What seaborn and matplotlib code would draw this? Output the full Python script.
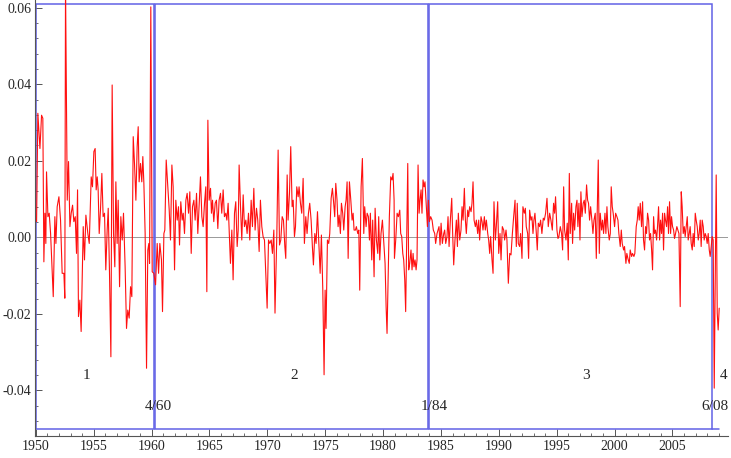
import numpy as np
import pandas as pd
import matplotlib
matplotlib.use('Agg')
import matplotlib.pyplot as plt
from matplotlib.patches import Rectangle
import seaborn as sns

# Series (values in units of 0.001), split by decade
years_a = [1950.06, 1950.17, 1950.35, 1950.49, 1950.60, 1950.69, 1950.78, 1950.86, 1950.92, 1951.04,
           1951.15, 1951.27, 1951.50, 1951.64, 1951.73, 1951.84, 1951.99, 1952.13, 1952.27, 1952.42,
           1952.50, 1952.56, 1952.71, 1952.82, 1952.94, 1953.05, 1953.17, 1953.28, 1953.40, 1953.51,
           1953.60, 1953.68, 1953.80, 1953.91, 1954.09, 1954.20, 1954.32, 1954.49, 1954.61, 1954.78,
           1954.89, 1955.01, 1955.12, 1955.21, 1955.30, 1955.38, 1955.47, 1955.58, 1955.70, 1955.81,
           1955.93, 1956.04, 1956.16, 1956.25, 1956.36, 1956.48, 1956.59, 1956.71, 1956.82, 1956.91,
           1957.02, 1957.11, 1957.23, 1957.34, 1957.46, 1957.57, 1957.71, 1957.83, 1957.94, 1958.06,
           1958.18, 1958.29, 1958.41, 1958.52, 1958.64, 1958.75, 1958.84, 1958.92, 1959.04, 1959.15,
           1959.24, 1959.33, 1959.44, 1959.56, 1959.67, 1959.76, 1959.82, 1959.93]
vals_a = [4.1, 32.4, 23.2, 31.9, 31.1, -6.4, 6.3, -1.6, 17.1, 5.4,
          6.3, 1.0, -15.5, 5.4, -1.6, 8.0, 10.6, 4.5, -9.4, -9.4,
          -15.9, 66.0, 9.7, 19.8, 2.8, 6.3, 8.4, 4.1, 5.4, -4.2,
          12.4, -20.7, -16.4, -24.6, 2.8, -5.9, 5.8, 1.0, -1.6, 15.8,
          13.2, 22.4, 23.2, 12.4, 15.8, 12.4, 1.0, 7.1, 16.7, 5.4,
          6.3, -8.5, 1.9, 7.6, -9.4, -31.2, 39.8, 1.0, -7.7, 14.5,
          -1.6, 9.7, -12.9, 5.4, -0.7, 6.3, -7.7, -23.8, -19.0, -21.1,
          -12.9, -15.5, 26.3, 19.3, 9.7, 23.7, 28.9, 14.5, 19.3, 14.5,
          21.1, 14.1, 1.0, -34.2, -3.3, -1.6, -6.8, 60.2]

years_b = [1960.05, 1960.19, 1960.34, 1960.48, 1960.60, 1960.71, 1960.85, 1960.94, 1961.06, 1961.14,
           1961.26, 1961.40, 1961.52, 1961.63, 1961.75, 1961.86, 1961.98, 1962.09, 1962.21, 1962.32,
           1962.41, 1962.52, 1962.64, 1962.73, 1962.84, 1962.96, 1963.07, 1963.19, 1963.30, 1963.42,
           1963.53, 1963.65, 1963.76, 1963.88, 1963.99, 1964.11, 1964.22, 1964.34, 1964.45, 1964.57,
           1964.68, 1964.77, 1964.86, 1964.97, 1965.09, 1965.17, 1965.26, 1965.37, 1965.49, 1965.60,
           1965.72, 1965.83, 1965.95, 1966.06, 1966.18, 1966.29, 1966.41, 1966.50, 1966.61, 1966.70,
           1966.81, 1966.93, 1967.04, 1967.16, 1967.27, 1967.39, 1967.48, 1967.56, 1967.68, 1967.79,
           1967.91, 1968.02, 1968.14, 1968.25, 1968.37, 1968.48, 1968.60, 1968.71, 1968.83, 1968.94,
           1969.06, 1969.17, 1969.29, 1969.40, 1969.52, 1969.63, 1969.75, 1969.86, 1969.98, 1970.10,
           1970.21, 1970.33, 1970.44, 1970.56, 1970.66]
vals_b = [-9.0, -9.4, -12.4, -1.6, -9.4, -1.6, -5.9, -19.4, 1.0, 1.9,
          20.2, 13.2, 7.1, -0.7, 18.9, 13.2, -8.5, 9.7, 4.5, 8.0,
          -2.0, 9.3, 4.5, 6.3, 1.0, 9.7, 11.5, 6.3, 11.9, -4.2,
          8.0, 9.7, 4.5, 11.5, 1.0, 8.9, 15.8, 5.4, 2.8, 8.9,
          13.2, -14.2, 30.6, 9.7, 12.8, 6.3, 9.7, 4.1, 8.9, 9.7,
          2.3, 9.7, 11.5, 6.3, 12.4, 5.4, 6.3, 4.5, 8.9, 1.9,
          -6.8, 1.9, -11.1, 6.3, 9.3, -2.4, 1.9, 18.9, 8.0, -0.7,
          11.1, 2.8, 4.5, 1.0, 6.3, -0.7, 9.7, 2.8, 12.8, 1.9,
          7.6, 4.5, -3.7, 9.7, 2.8, 0.2, -0.7, -9.4, -18.5, -0.7,
          -1.6, -0.7, -4.2, 1.9, -19.8]

years_c = [1970.82, 1970.93, 1971.05, 1971.16, 1971.28, 1971.39, 1971.51, 1971.59, 1971.71, 1971.79,
           1971.91, 1972.02, 1972.14, 1972.23, 1972.34, 1972.43, 1972.54, 1972.66, 1972.74, 1972.86,
           1972.97, 1973.09, 1973.20, 1973.32, 1973.43, 1973.55, 1973.66, 1973.78, 1973.89, 1973.98,
           1974.10, 1974.21, 1974.33, 1974.44, 1974.56, 1974.67, 1974.79, 1974.90, 1974.99, 1975.07,
           1975.19, 1975.30, 1975.39, 1975.51, 1975.62, 1975.71, 1975.82, 1975.91, 1976.02, 1976.11,
           1976.20, 1976.31, 1976.40, 1976.51, 1976.60, 1976.72, 1976.80, 1976.89, 1976.98, 1977.09,
           1977.21, 1977.32, 1977.41, 1977.49, 1977.61, 1977.69, 1977.81, 1977.90, 1977.98, 1978.10,
           1978.21, 1978.33, 1978.41, 1978.53, 1978.62, 1978.73, 1978.82, 1978.90, 1979.02, 1979.10,
           1979.22, 1979.31, 1979.42, 1979.54, 1979.62, 1979.71, 1979.82, 1979.94, 1980.05, 1980.17,
           1980.26, 1980.34, 1980.43, 1980.54, 1980.66, 1980.77, 1980.86, 1980.95]
vals_c = [1.0, 22.8, -2.0, -0.7, 5.4, 4.5, -2.4, -5.5, 16.3, 4.5,
          11.5, 23.7, 8.0, 9.7, 0.2, 2.8, 13.2, 10.6, 13.2, 8.9,
          6.3, 15.4, -1.6, 5.4, 1.0, 6.3, 8.9, 4.5, -2.4, -7.2,
          1.0, -1.6, 6.7, -0.7, -9.4, 0.6, -13.8, -35.9, -13.8, -23.8,
          -0.7, -1.6, 1.0, 10.2, 12.8, 9.7, 5.4, 14.1, 9.7, 2.8,
          5.8, 1.0, 8.9, 6.3, 1.9, 8.0, 9.7, 14.5, -5.5, 14.5,
          9.7, 4.5, 6.3, 1.9, 1.9, 2.8, 1.0, 1.9, -13.8, 13.2,
          20.6, 1.0, 8.0, 2.8, 6.3, 5.4, -0.7, 6.3, -5.9, 4.5,
          -10.3, 7.6, -0.7, -4.2, 5.4, -5.9, 1.0, 4.5, -0.7, -6.8,
          -18.1, -25.1, -12.0, 5.4, 15.8, 15.0, 16.7, 9.7]

years_d = [1980.98, 1981.09, 1981.21, 1981.32, 1981.44, 1981.52, 1981.61, 1981.70, 1981.78, 1981.87,
           1981.95, 1982.04, 1982.13, 1982.21, 1982.30, 1982.41, 1982.50, 1982.59, 1982.67, 1982.76,
           1982.85, 1982.93, 1983.02, 1983.11, 1983.19, 1983.28, 1983.36, 1983.45, 1983.54, 1983.62,
           1983.71, 1983.83, 1983.91, 1984.00, 1984.11, 1984.23, 1984.34, 1984.46, 1984.54, 1984.66,
           1984.75, 1984.83, 1984.92, 1985.01, 1985.12, 1985.24, 1985.32, 1985.41, 1985.52, 1985.61,
           1985.70, 1985.81, 1985.93, 1986.01, 1986.10, 1986.21, 1986.33, 1986.42, 1986.50, 1986.62,
           1986.73, 1986.82, 1986.91, 1987.02, 1987.11, 1987.19, 1987.31, 1987.39, 1987.48, 1987.60,
           1987.68, 1987.77, 1987.86, 1987.97, 1988.06, 1988.17, 1988.26, 1988.34, 1988.46, 1988.55,
           1988.63, 1988.75, 1988.83, 1988.92, 1989.04, 1989.12, 1989.21, 1989.29, 1989.41, 1989.50,
           1989.58, 1989.70, 1989.78, 1989.90, 1989.99, 1990.10, 1990.19, 1990.30, 1990.42, 1990.50,
           1990.62, 1990.70, 1990.82, 1990.94, 1991.05, 1991.17, 1991.28, 1991.40]
vals_d = [-5.5, -0.7, 6.3, 5.4, 7.1, 1.0, 0.2, -4.2, -5.9, -11.1,
          -19.4, 1.0, 19.3, -8.5, -6.8, -3.3, -8.5, -4.2, -7.7, -5.9,
          -8.5, -5.9, 18.9, 6.3, 9.7, 12.4, 6.3, 15.0, 13.2, 14.5,
          9.7, 2.8, 9.7, 4.1, 5.4, 4.5, 1.9, 1.0, -1.6, 1.0,
          1.9, 2.8, -2.0, 3.7, -1.6, 1.0, 1.9, -1.6, 0.2, 5.4,
          -2.4, 4.5, 10.2, 1.0, -7.2, -0.7, 4.5, -2.4, 6.3, -0.7,
          1.9, 8.0, 4.5, 12.8, 4.5, 1.0, 7.1, 5.4, 8.0, 6.7,
          8.9, 14.5, 4.5, 2.8, 4.5, 1.0, 4.5, -0.7, 5.4, 4.1,
          1.9, 5.4, 1.9, 4.5, 1.0, -0.7, -4.2, 0.2, -5.9, -9.4,
          9.3, -0.7, 2.8, 9.3, -4.2, 1.0, -5.9, 2.8, 1.9, -0.7,
          1.9, -0.7, -12.0, -4.2, -4.6, 1.0, 5.4, 9.7]

years_e = [1991.42, 1991.51, 1991.59, 1991.68, 1991.80, 1991.88, 1992.00, 1992.08, 1992.20, 1992.29,
           1992.37, 1992.49, 1992.57, 1992.66, 1992.77, 1992.86, 1992.95, 1993.03, 1993.12, 1993.24,
           1993.32, 1993.41, 1993.52, 1993.61, 1993.72, 1993.84, 1993.93, 1994.04, 1994.16, 1994.27,
           1994.39, 1994.50, 1994.62, 1994.73, 1994.82, 1994.90, 1995.02, 1995.11, 1995.19, 1995.31,
           1995.42, 1995.51, 1995.60, 1995.68, 1995.80, 1995.91, 1996.00, 1996.09, 1996.17, 1996.29,
           1996.37, 1996.46, 1996.55, 1996.66, 1996.75, 1996.83, 1996.92, 1997.01, 1997.09, 1997.18,
           1997.29, 1997.38, 1997.47, 1997.58, 1997.67, 1997.75, 1997.84, 1997.93, 1998.04, 1998.13,
           1998.22, 1998.33, 1998.42, 1998.50, 1998.59, 1998.68, 1998.76, 1998.88, 1998.96, 1999.05,
           1999.17, 1999.25, 1999.34, 1999.42, 1999.54, 1999.63, 1999.71, 1999.80, 1999.88, 2000.00,
           2000.09, 2000.20, 2000.29, 2000.37, 2000.49, 2000.58, 2000.66, 2000.78, 2000.86, 2000.98,
           2001.06, 2001.15, 2001.27, 2001.35, 2001.47, 2001.55, 2001.67, 2001.75]
vals_e = [6.3, -2.4, 8.9, -1.6, -2.4, 1.0, -5.5, 8.0, 6.3, 7.6,
          2.8, 1.0, -5.5, 7.1, 4.5, 5.4, 1.0, 4.5, 6.3, 1.0,
          -3.3, 3.7, 2.8, 4.5, 1.0, 5.0, 4.5, 6.3, 10.2, 2.8,
          6.3, 4.5, 1.9, 8.9, 6.3, 10.6, 1.9, -0.3, 0.2, 2.8,
          1.0, -3.3, 13.2, 1.9, -0.7, 3.7, -5.9, 16.7, 1.0, 8.9,
          -1.6, 6.3, 1.9, 8.0, 9.7, 2.8, 8.9, -0.7, 11.9, 5.4,
          8.9, 9.7, 6.3, 13.7, 9.7, 8.9, 4.5, 8.0, 4.5, 1.0,
          4.5, 6.3, -5.5, 7.1, 20.2, -4.2, 6.3, 1.9, 4.5, 1.0,
          6.3, 1.0, 8.0, 2.8, -0.7, 1.0, 13.2, 8.0, 6.3, 2.8,
          6.3, 5.4, 4.5, 1.0, -2.4, 1.9, -1.6, -3.3, -2.4, -6.8,
          -4.2, -5.5, -6.8, -3.3, -5.0, -4.2, -5.0, -4.2]

years_f = [2001.87, 2001.96, 2002.04, 2002.13, 2002.22, 2002.33, 2002.42, 2002.50, 2002.59, 2002.68,
           2002.76, 2002.85, 2002.94, 2003.02, 2003.11, 2003.20, 2003.28, 2003.37, 2003.45, 2003.54,
           2003.63, 2003.71, 2003.80, 2003.89, 2003.97, 2004.06, 2004.15, 2004.23, 2004.32, 2004.40,
           2004.49, 2004.58, 2004.66, 2004.75, 2004.84, 2004.92, 2005.01, 2005.10, 2005.18, 2005.27,
           2005.38, 2005.47, 2005.56, 2005.67, 2005.76, 2005.84, 2005.93, 2006.02, 2006.10, 2006.19,
           2006.28, 2006.36, 2006.45, 2006.53, 2006.62, 2006.71, 2006.79, 2006.88, 2006.97, 2007.05,
           2007.14, 2007.23, 2007.31, 2007.40, 2007.48, 2007.57, 2007.66, 2007.74, 2007.83, 2007.92,
           2008.00, 2008.09, 2008.18, 2008.26, 2008.35, 2008.43, 2008.52, 2008.61, 2008.69, 2008.78,
           2008.87, 2008.95, 2009.04]
vals_f = [2.8, 4.5, 8.0, 4.5, 8.9, 2.8, 9.3, -0.7, -3.3, 2.8,
          1.0, 6.3, 4.5, -0.7, 1.0, -3.3, -8.5, 5.4, 1.0, 1.9,
          -0.7, 2.8, 8.0, -0.7, 4.5, 1.0, 6.3, -3.3, 6.3, 4.5,
          2.8, 8.0, 1.0, 9.3, 1.0, 5.4, 2.8, 1.9, -0.3, 1.0,
          2.8, 1.9, 1.0, -18.1, 11.9, 8.0, 1.0, 2.8, 0.2, 2.8,
          5.4, -0.7, 1.0, 2.8, -1.6, -3.3, 1.0, -2.4, 6.3, 4.5,
          2.8, -0.7, 1.0, 4.5, -2.4, 4.5, 2.8, -0.7, 1.0, 0.2,
          -1.6, 1.0, -3.3, -5.0, -2.4, 0.2, -0.7, -39.4, -12.9, 16.3,
          -19.8, -24.2, -18.5]

# regime boxes (start, end) and their labels
regime_start = [1950.0, 1960.25, 1984.0]
regime_end = [1960.17, 1983.92, 2008.42]
regime_names = ['1', '2', '3', '4']
regime_name_x = [1954.4, 1972.3, 1997.5, 2009.45]
break_labels = ['4/60', '1/84', '6/08']
break_label_x = [1960.6, 1984.4, 2008.7]

df = pd.DataFrame({
    'year': years_a + years_b + years_c + years_d + years_e + years_f,
    'value': np.array(vals_a + vals_b + vals_c + vals_d + vals_e + vals_f) / 1000.0,
})

sns.set_style('ticks')
plt.rcParams['font.family'] = ['Liberation Serif', 'DejaVu Serif']

fig = plt.figure(figsize=(7.31, 4.58), dpi=100)
ax = fig.add_axes([0.0483, 0.048, 0.9476, 0.952])

box_color = '#6262e6'
box_bottom, box_top = -0.050, 0.0609
for s, e in zip(regime_start, regime_end):
    ax.add_patch(Rectangle((s, box_bottom), e - s, box_top - box_bottom, fill=False,
                           edgecolor=box_color, lw=1.1, zorder=2))
ax.plot([2008.42, 2009.05], [box_bottom, box_bottom], color=box_color, lw=1.1, zorder=2)

ax.axhline(0, color='#999999', lw=0.7, zorder=1)

sns.lineplot(data=df, x='year', y='value', estimator=None, sort=False,
             color='#ff1010', lw=0.8, ax=ax, zorder=3)

for name, x in zip(regime_names, regime_name_x):
    ax.text(x, -0.036, name, ha='center', va='center', fontsize=11)
for name, x in zip(break_labels, break_label_x):
    ax.text(x, -0.0443, name, ha='center', va='center', fontsize=11)

ax.set_xlim(1949.95, 2009.8)
ax.set_ylim(-0.0519, 0.062)
ax.set_xticks(np.arange(1950, 2006, 5))
ax.set_xticks(np.arange(1950, 2010, 1), minor=True)
ax.set_yticks([-0.04, -0.02, 0.0, 0.02, 0.04, 0.06])
ax.set_yticklabels(['-0.04', '-0.02', '0.00', '0.02', '0.04', '0.06'])
ax.set_yticks(np.arange(-0.048, 0.0621, 0.004), minor=True)
ax.set_xlabel('')
ax.set_ylabel('')

for side in ['top', 'right']:
    ax.spines[side].set_visible(False)
for side in ['left', 'bottom']:
    ax.spines[side].set_color('#555555')
    ax.spines[side].set_linewidth(0.8)
ax.tick_params(which='major', direction='in', length=5, width=0.7, color='#555555',
               labelsize=10, pad=3)
ax.tick_params(which='minor', direction='in', length=2.5, width=0.6, color='#555555')

fig.savefig('out.png', dpi=100)
